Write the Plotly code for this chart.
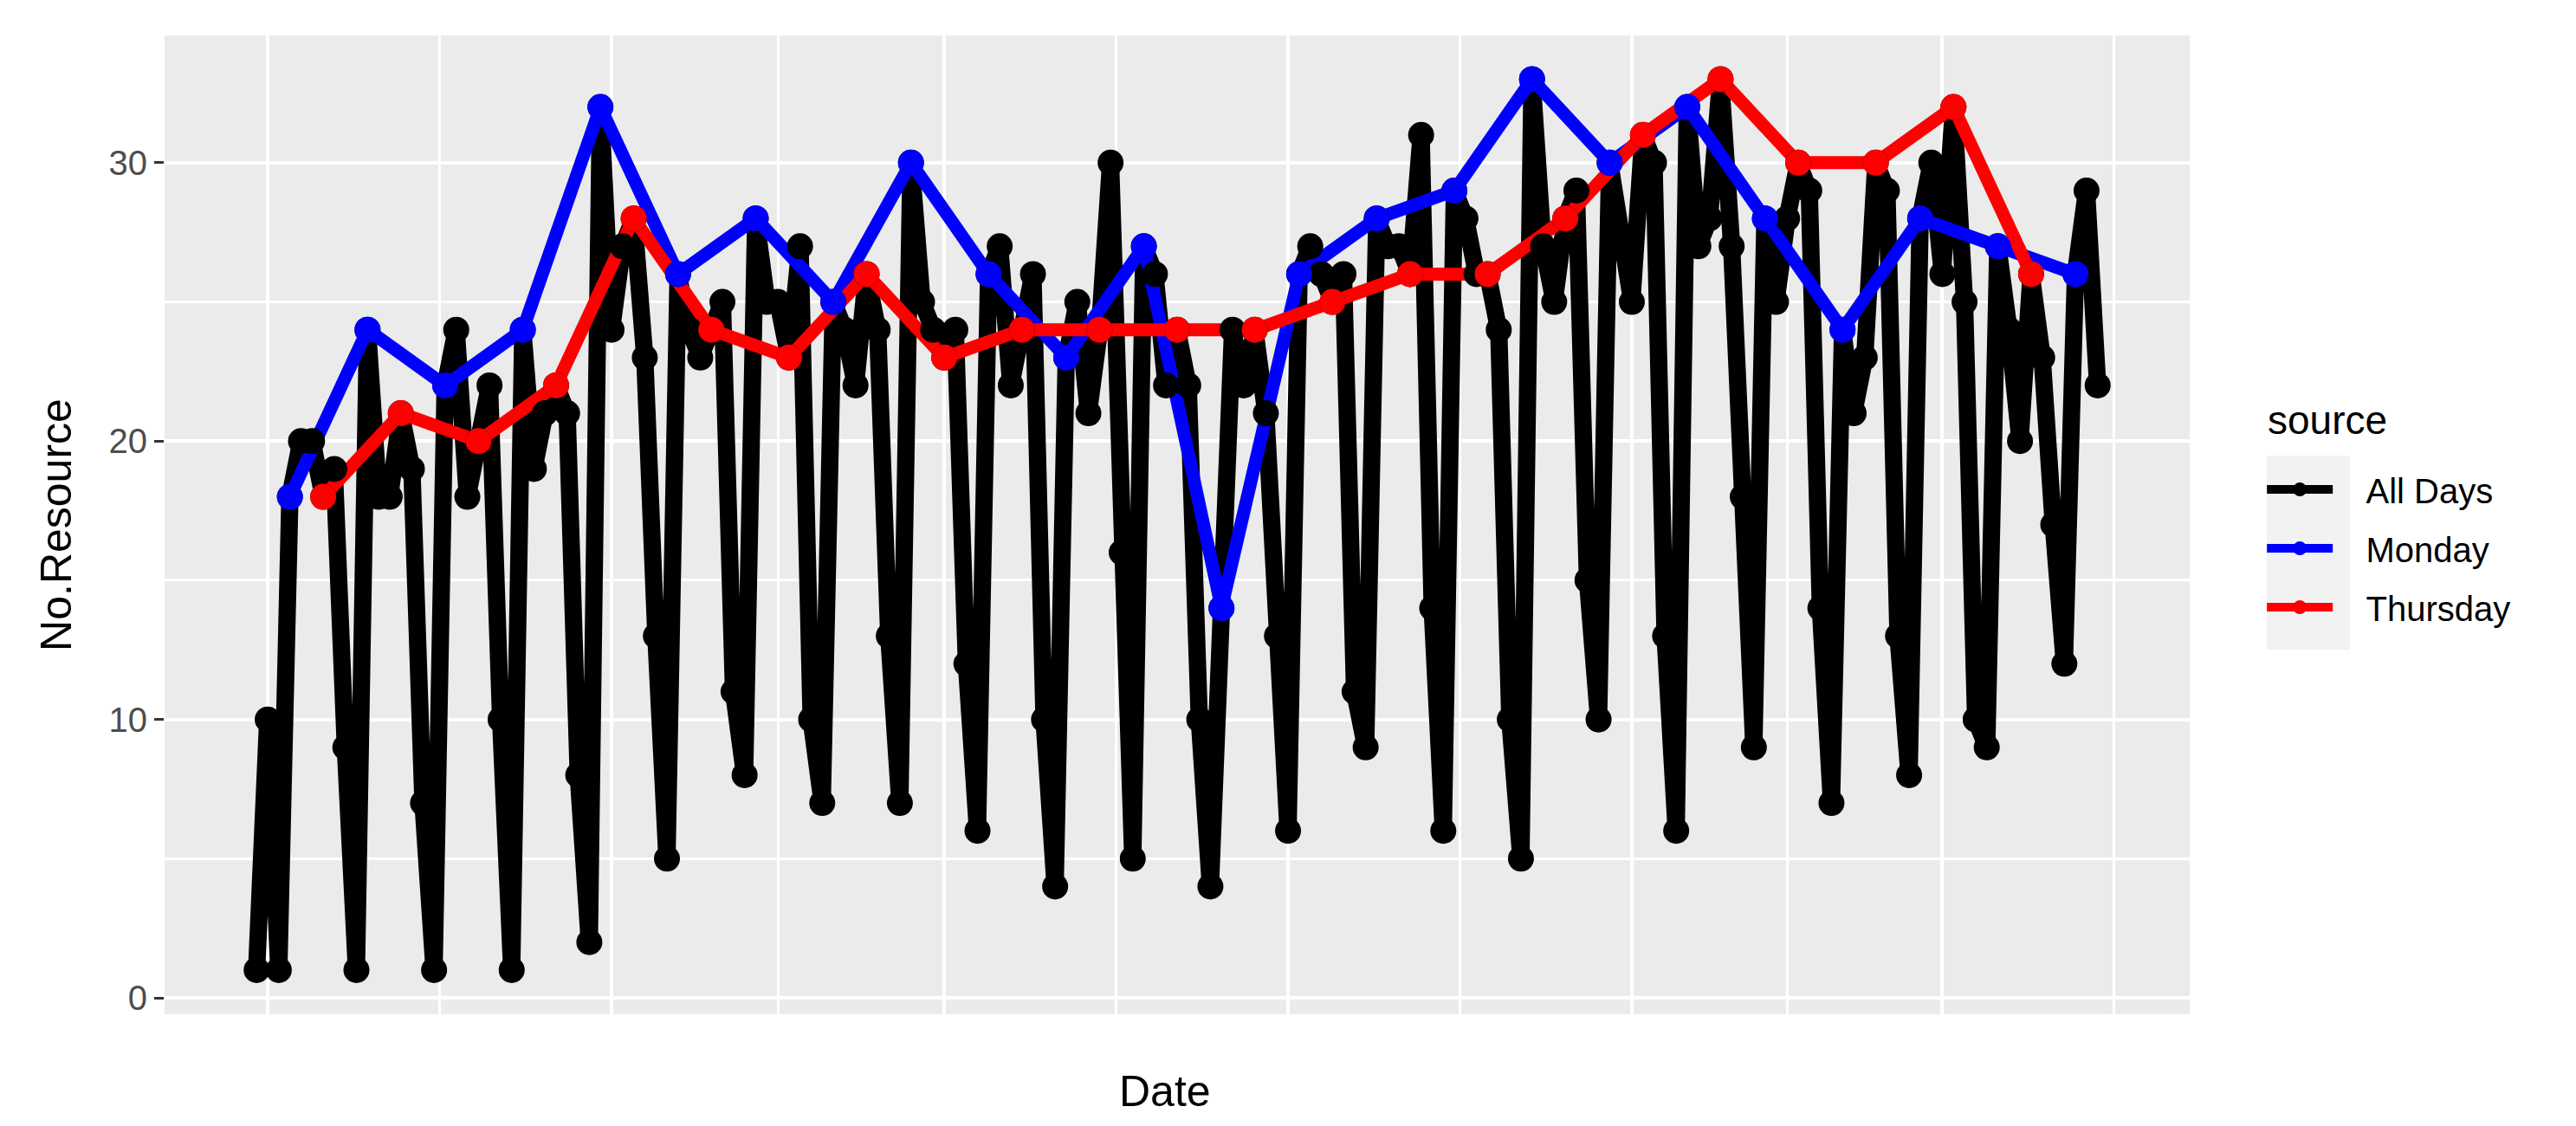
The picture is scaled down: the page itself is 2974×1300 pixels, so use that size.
import pandas as pd
import plotly.graph_objects as go

# daily counts, Fri 2016-09-30 .. Wed 2017-03-15
dates = pd.date_range("2016-09-30", "2017-03-15", freq="D")
all_days = [
    1, 10, 1,
    18, 20, 20, 18, 19, 9, 1,
    24, 18, 18, 21, 19, 7, 1,
    22, 24, 18, 20, 22, 10, 1,
    24, 19, 21, 22, 21, 8, 2,
    32, 24, 27, 28, 23, 13, 5,
    26, 24, 23, 24, 25, 11, 8,
    28, 25, 25, 23, 27, 10, 7,
    25, 24, 22, 26, 24, 13, 7,
    30, 25, 24, 23, 24, 12, 6,
    26, 27, 22, 24, 26, 10, 4,
    23, 25, 21, 24, 30, 16, 5,
    27, 26, 22, 24, 22, 10, 4,
    14, 24, 22, 24, 21, 13, 6,
    26, 27, 26, 25, 26, 11, 9,
    28, 27, 27, 26, 31, 14, 6,
    29, 28, 26, 26, 24, 10, 5,
    33, 27, 25, 28, 29, 15, 10,
    30, 27, 25, 31, 30, 13, 6,
    32, 27, 28, 33, 27, 18, 9,
    28, 25, 28, 30, 29, 14, 7,
    24, 21, 23, 30, 29, 13, 8,
    28, 30, 26, 32, 25, 10, 9,
    27, 24, 20, 26, 23, 17, 12,
    26, 29, 22,
]

monday_dates = pd.date_range("2016-10-03", "2017-03-13", freq="W-MON")
monday = [18, 24, 22, 24, 32, 26, 28, 25, 30, 26, 23, 27,
          14, 26, 28, 29, 33, 30, 32, 28, 24, 28, 27, 26]

thursday_dates = pd.date_range("2016-10-06", "2017-03-09", freq="W-THU")
thursday = [18, 21, 20, 22, 28, 24, 23, 26, 23, 24, 24, 24,
            24, 25, 26, 26, 28, 31, 33, 30, 30, 32, 26]

# date breaks (no labels on the axis)
month_breaks = ["2016-10-01", "2016-11-01", "2016-12-01",
                "2017-01-01", "2017-02-01", "2017-03-01"]
mid_breaks = ["2016-10-16 12:00", "2016-11-16", "2016-12-16 12:00",
              "2017-01-16 12:00", "2017-02-15", "2017-03-16 12:00"]

series = [
    ("All Days", dates, all_days, "#000000", 20),
    ("Monday", monday_dates, monday, "#0000FF", 15),
    ("Thursday", thursday_dates, thursday, "#FF0000", 15),
]

fig = go.Figure()

# lines first, then points on top (like geom_line + geom_point)
for name, x, y, col, lw in series:
    fig.add_trace(go.Scatter(x=x, y=y, mode="lines", showlegend=False,
                             line=dict(color=col, width=lw), hoverinfo="skip"))
for name, x, y, col, lw in series:
    fig.add_trace(go.Scatter(x=x, y=y, mode="markers", name=name, showlegend=False,
                             marker=dict(color=col, size=30)))
# legend entries (padded so the label sits clear of the key, as in ggplot)
for name, x, y, col, lw in series:
    fig.add_trace(go.Scatter(x=[None], y=[None], mode="lines+markers",
                             name="\u00a0\u00a0\u00a0" + name,
                             legendgroup=name, line=dict(color=col, width=10),
                             marker=dict(color=col, size=16)))

span = dates[-1] - dates[0]
x0 = dates[0] - span * 0.05
x1 = dates[-1] + span * 0.05

fig.update_layout(
    width=2974, height=1300,
    margin=dict(l=182, r=454, t=33, b=137),
    paper_bgcolor="white",
    plot_bgcolor="#EBEBEB",
    font=dict(family="Liberation Sans, Arial, sans-serif", color="#000000"),
    legend=dict(
        font=dict(size=40),
        x=1.036, xanchor="left", y=0.565, yanchor="top",
        itemwidth=76, traceorder="grouped", tracegroupgap=13,
        bgcolor="rgba(0,0,0,0)",
    ),
    xaxis=dict(
        range=[x0, x1], showline=False, zeroline=False,
        tickvals=month_breaks, showticklabels=False, ticks="",
        showgrid=True, gridcolor="white", gridwidth=4,
        minor=dict(tickvals=mid_breaks, showgrid=True, gridcolor="white",
                   gridwidth=3, ticks=""),
    ),
    yaxis=dict(
        range=[-0.59, 34.57], showline=False, zeroline=False,
        tickvals=[0, 10, 20, 30], ticks="outside", ticklen=11, tickwidth=3,
        tickcolor="#333333", tickfont=dict(size=40, color="#4D4D4D"),
        showgrid=True, gridcolor="white", gridwidth=4,
        minor=dict(dtick=5, showgrid=True, gridcolor="white", gridwidth=3, ticks=""),
    ),
    annotations=[
        dict(text="Date", xref="paper", yref="paper", x=0.494, y=-0.079,
             xanchor="center", yanchor="middle", showarrow=False,
             font=dict(size=50)),
        dict(text="No.Resource", xref="paper", yref="paper", x=-0.0535, y=0.5,
             xanchor="center", yanchor="middle", textangle=-90, showarrow=False,
             font=dict(size=50)),
        dict(text="source", xref="paper", yref="paper",
             x=(2608 - 182) / 2338, y=(1163 - 477) / 1130,
             xanchor="left", yanchor="middle", showarrow=False,
             font=dict(size=46)),
    ],
    shapes=[
        # grey key background behind the legend symbols
        dict(type="rect", xref="paper", yref="paper",
             x0=(2609 - 182) / 2338, x1=(2705 - 182) / 2338,
             y0=(1163 - 742) / 1130, y1=(1163 - 518) / 1130,
             fillcolor="#F2F2F2", line=dict(width=0), layer="below"),
    ],
)

fig.write_html("out.html")
